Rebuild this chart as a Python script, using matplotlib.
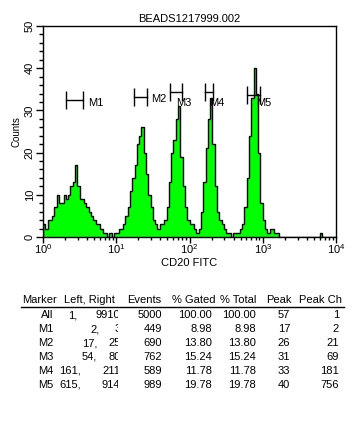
import numpy as np
import matplotlib
matplotlib.use("Agg")
import matplotlib.pyplot as plt
from matplotlib.transforms import Bbox

plt.rcParams['font.family'] = ['Liberation Sans', 'DejaVu Sans']
plt.rcParams['mathtext.fontset'] = 'custom'
plt.rcParams['mathtext.rm'] = 'Liberation Sans'

# ---------data-------------------
# counts per log bin, 32 bins per decade, 10^0 .. 10^4
counts = [3, 2, 4, 4, 5, 7, 10, 8, 8, 10, 9, 10, 12, 13, 17, 12,
          9, 9, 8, 7, 6, 5, 4, 3, 3, 2, 1, 1, 0, 1, 0, 1,
          1, 2, 2, 3, 5, 7, 11, 14, 17, 22, 24, 26, 20, 15, 10, 7,
          4, 3, 2, 3, 3, 4, 7, 13, 20, 23, 28, 31, 19, 12, 7, 4,
          3, 3, 2, 1, 2, 6, 13, 21, 28, 33, 22, 12, 6, 4, 3, 2,
          1, 1, 0, 1, 1, 1, 2, 3, 7, 14, 24, 33, 40, 34, 20, 8,
          4, 2, 1, 2, 2, 1, 1, 0, 0, 0, 0, 0, 0, 0, 0, 0,
          0, 0, 0, 0, 0, 0, 0, 0, 0, 1, 0, 0, 0, 0, 0, 0]
bins_per_decade = 32

marker_names = ["M1", "M2", "M3", "M4", "M5"]
marker_lo = [2.04, 17.6, 54, 161, 615]
marker_hi = [3.55, 26, 80, 211, 914]
marker_level = [32.5, 33.2, 34.4, 34.4, 33.6]

tbl_marker = ["All", "M1", "M2", "M3", "M4", "M5"]
tbl_left = [1, 2, 17, 54, 161, 615]
tbl_right = [9910, 3, 25, 80, 211, 914]
tbl_events = [5000, 449, 690, 762, 589, 989]
tbl_gated = ["100.00", "8.98", "13.80", "15.24", "11.78", "19.78"]
tbl_total = ["100.00", "8.98", "13.80", "15.24", "11.78", "19.78"]
tbl_peak = [57, 17, 26, 31, 33, 40]
tbl_peakch = [1, 2, 21, 69, 181, 756]
# ---------------------------------

W, H = 361, 437
fig = plt.figure(figsize=(W / 100, H / 100), dpi=100)
fig.patch.set_facecolor("white")

def fx(px):
    return px / W

def fy(py):
    return 1 - py / H

ax = fig.add_axes([fx(43), fy(237), fx(336) - fx(43), fy(26) - fy(237)])

edges = 10 ** (np.arange(len(counts) + 1) / bins_per_decade)
ax.stairs(counts, edges, fill=True, color="#00ff00", lw=0)
ax.stairs(counts, edges, color="black", lw=1.0)

ax.set_xscale("log")
ax.set_xlim(1, 1e4)
ax.set_ylim(0, 50)
ax.set_yticks(range(0, 51, 10))
ax.set_yticks(range(0, 51, 2), minor=True)
ax.tick_params(axis="y", which="major", length=5, width=1, labelsize=8, pad=1)
ax.tick_params(axis="y", which="minor", length=3, width=1)
for lab in ax.get_yticklabels():
    lab.set_rotation(90)
    lab.set_va("center")
ax.set_xticks([1, 10, 100, 1000, 10000])
ax.set_xticklabels([r"$\mathregular{10^{%d}}$" % k for k in range(5)])
ax.tick_params(axis="x", which="major", length=4, width=1, labelsize=8, pad=0)
ax.tick_params(axis="x", which="minor", length=2, width=1)
for s in ax.spines.values():
    s.set_linewidth(1)

ax.set_title("BEADS1217999.002", fontsize=8, pad=3)
ax.set_xlabel("CD20 FITC", fontsize=8, labelpad=1)
ax.set_ylabel("Counts", fontsize=7, labelpad=2)

# markers
label_offsets = [(5, -3), (4, -2), (-6, -11), (-4, -11), (-4, -8)]
for name, lo, hi, lev, off in zip(marker_names, marker_lo, marker_hi,
                                  marker_level, label_offsets):
    ax.plot([lo, hi], [lev, lev], color="black", lw=1)
    ax.vlines([lo, hi], lev - 2.1, lev + 2.1, color="black", lw=1)
    ax.annotate(name, (hi, lev), xytext=off, textcoords="offset pixels",
                fontsize=8, ha="left", va="center")

# statistics table
hdr_y = 300
fs = 8
headers = [("Marker", 22), ("Left, Right", 64), ("Events", 127),
           ("% Gated", 172), ("% Total", 220), ("Peak", 266), ("Peak Ch", 299)]
for txt, x in headers:
    fig.text(fx(x), fy(hdr_y), txt, fontsize=fs, ha="left", va="center")
fig.add_artist(plt.Line2D([fx(21), fx(344)], [fy(307), fy(307)],
                          color="black", lw=1))

comma_x = [77, 100, 97, 97, 81, 81]
clip = Bbox.from_extents(0, 0, 118, H)
for k in range(len(tbl_marker)):
    y = fy(315.5 + 13.8 * k)
    fig.text(fx(53), y, tbl_marker[k], fontsize=fs, ha="right", va="center")
    fig.text(fx(comma_x[k]), y, "%d," % tbl_left[k], fontsize=fs,
             ha="right", va="center")
    t = fig.text(fx(120.5), y, "%d" % tbl_right[k], fontsize=fs,
                 ha="right", va="center")
    t.set_clip_box(clip)
    fig.text(fx(162), y, "%d" % tbl_events[k], fontsize=fs, ha="right", va="center")
    fig.text(fx(212), y, tbl_gated[k], fontsize=fs, ha="right", va="center")
    fig.text(fx(256), y, tbl_total[k], fontsize=fs, ha="right", va="center")
    fig.text(fx(290), y, "%d" % tbl_peak[k], fontsize=fs, ha="right", va="center")
    fig.text(fx(339), y, "%d" % tbl_peakch[k], fontsize=fs, ha="right", va="center")

fig.savefig("out.png", dpi=100)
